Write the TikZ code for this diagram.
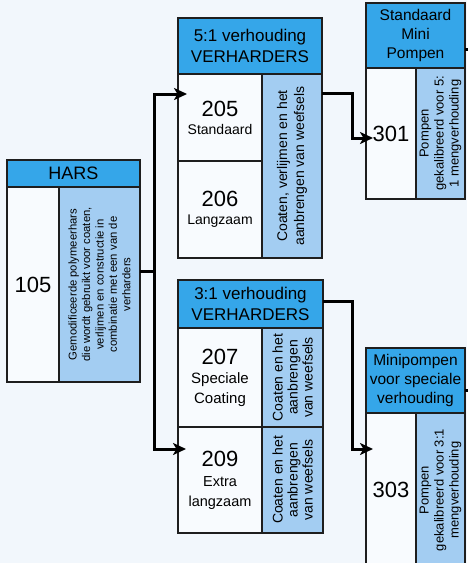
\documentclass[tikz,border=0pt]{standalone}
\usepackage{fontspec}
\setmainfont{Liberation Sans}
\usetikzlibrary{arrows.meta,calc}
\definecolor{bgc}{HTML}{F2F7FC}
\definecolor{hblue}{HTML}{35A6E9}
\definecolor{lblue}{HTML}{A3CDF2}
\definecolor{wcell}{HTML}{F8FBFE}
\definecolor{bdr}{HTML}{1E1E1E}
\newcommand\fsz[2]{\fontsize{#1}{#2}\selectfont}
\tikzset{
  box/.style={draw=bdr, line width=1.4pt, inner sep=1pt, align=center, anchor=center, text=black},
  hdr/.style={box, fill=hblue},
  wc/.style={box, fill=wcell},
  lc/.style={box, fill=lblue},
  conn/.style={line width=3pt, draw=black},
  arr/.style={-{Stealth[length=13pt,width=12pt,inset=3.5pt]}}
}
\begin{document}
\begin{tikzpicture}[x=1pt,y=-1pt]
\useasboundingbox[fill=bgc] (0,0) rectangle (467,563);

% HARS
\node[hdr, minimum width=133pt, minimum height=27pt, font=\fsz{18}{22}] (harsh) at (73.5,173.5) {HARS};
\node[wc, minimum width=52pt, minimum height=195pt, font=\fsz{22}{26}] (h105) at (33,284.5) {105};
\node[lc, rotate=90, minimum width=195pt, minimum height=81pt, font=\fsz{11.3}{13.4}] (htext) at (99.5,284.5)
  {Gemodificeerde polymeerhars\\die wordt gebruikt voor coaten,\\verlijmen en constructie in\\combinatie met een van de\\verharders};

% 5:1
\node[hdr, minimum width=144pt, minimum height=56pt, font=\fsz{17}{21}] (h51) at (250,46) {5:1 verhouding\\VERHARDERS};
\node[wc, minimum width=84pt, minimum height=87pt, font=\fsz{14}{18}] (c205) at (220,117.5) {{\fsz{22}{22}205}\\Standaard};
\node[wc, minimum width=84pt, minimum height=97pt, font=\fsz{14}{18}] (c206) at (220,209.5) {{\fsz{22}{22}206}\\Langzaam};
\node[lc, rotate=90, minimum width=184pt, minimum height=60pt, font=\fsz{14}{17}] (t51) at (292,166)
  {Coaten, verlijmen en het\\aanbrengen van weefsels};

% 3:1
\node[hdr, minimum width=145pt, minimum height=48pt, font=\fsz{17}{21}] (h31) at (250.5,304) {3:1 verhouding\\VERHARDERS};
\node[wc, minimum width=84pt, minimum height=99pt, font=\fsz{15}{19.5}] (c207) at (220,377.5) {{\fsz{22}{22}207}\\Speciale\\Coating};
\node[lc, rotate=90, minimum width=99pt, minimum height=61pt, font=\fsz{14}{15}] (t207) at (292.5,377.5)
  {Coaten en het\\aanbrengen\\van weefsels};
\node[wc, minimum width=84pt, minimum height=106pt, font=\fsz{14.5}{20}] (c209) at (220,480) {{\fsz{22}{22}209}\\Extra\\langzaam};
\node[lc, rotate=90, minimum width=106pt, minimum height=61pt, font=\fsz{14}{15}] (t209) at (292.5,480)
  {Coaten en het\\aanbrengen\\van weefsels};

% Pumps 1
\node[hdr, minimum width=99pt, minimum height=65pt, font=\fsz{15.5}{19}] (p1h) at (415.5,35.5) {Standaard\\Mini\\Pompen};
\node[wc, minimum width=50pt, minimum height=131pt, font=\fsz{22}{26}] (c301) at (391,133.5) {301};
\node[lc, rotate=90, minimum width=131pt, minimum height=49pt, font=\fsz{13}{15}] (t301) at (440.5,133.5)
  {Pompen\\gekalibreerd voor 5:\\1 mengverhouding};

% Pumps 2
\node[hdr, minimum width=99pt, minimum height=65pt, font=\fsz{15.5}{19}] (p2h) at (415.5,380.5) {Minipompen\\voor speciale\\verhouding};
\node[wc, minimum width=50pt, minimum height=154pt, font=\fsz{22}{26}] (c303) at (391,490) {303};
\node[lc, rotate=90, minimum width=154pt, minimum height=49pt, font=\fsz{13}{15}] (t303) at (440.5,490)
  {Pompen\\gekalibreerd voor 3:1\\mengverhouding};

% connector points
\coordinate (hout) at (140,271);
\coordinate (j1) at (154,271);
\coordinate (in51) at (187,94);
\coordinate (in31) at (186,449);
\coordinate (o51) at (322,93);
\coordinate (in301) at (373,138);
\coordinate (o31) at (323,301);
\coordinate (in303) at (373,449);
\coordinate (s1) at (465,49);
\coordinate (s2) at (465,390);

\draw[conn] (hout) -- (j1);
\draw[conn, arr] (j1) |- (in51);
\draw[conn, arr] (j1) |- (in31);
\draw[conn, arr] (o51) -- ++(30,0) |- (in301);
\draw[conn, arr] (o31) -- ++(29,0) |- (in303);
\draw[conn] (s1) -- ++(8,0);
\draw[conn] (s2) -- ++(8,0);
\end{tikzpicture}
\end{document}
